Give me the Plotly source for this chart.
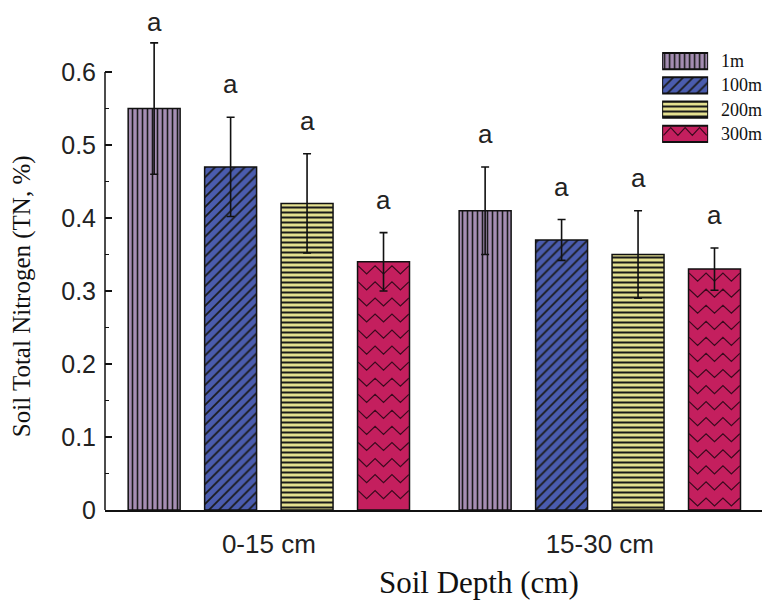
import plotly.graph_objects as go

# ---------------- data ----------------
depths = ["0-15 cm", "15-30 cm"]
distances = ["1m", "100m", "200m", "300m"]

tn_1m = [0.55, 0.41]
tn_100m = [0.47, 0.37]
tn_200m = [0.42, 0.35]
tn_300m = [0.34, 0.33]

se_1m = [0.09, 0.06]
se_100m = [0.068, 0.028]
se_200m = [0.068, 0.06]
se_300m = [0.04, 0.029]

sig_1m = ["a", "a"]
sig_100m = ["a", "a"]
sig_200m = ["a", "a"]
sig_300m = ["a", "a"]

y_ticks = [0, 0.1, 0.2, 0.3, 0.4, 0.5, 0.6]
y_tick_labels = ["0", "0.1", "0.2", "0.3", "0.4", "0.5", "0.6"]
y_minor = [0.05, 0.15, 0.25, 0.35, 0.45, 0.55]

values = [tn_1m, tn_100m, tn_200m, tn_300m]
errors = [se_1m, se_100m, se_200m, se_300m]
letters = [sig_1m, sig_100m, sig_200m, sig_300m]

# ---------------- style ----------------
SANS = "Liberation Sans, Arial, sans-serif"
SERIF = "Liberation Serif, Times New Roman, serif"
fills = ["#a68eb4", "#4a5cae", "#e4e090", "#c41f5e"]
pat_shapes = ["|", "/", "-", ""]
pat_sizes = [5, 7, 5, 8]
pat_solid = [0.32, 0.25, 0.4, 0.3]
LINE = "#111111"

PITCH = 0.231
BW = 0.157
x_idx = list(range(len(depths)))
Y_MAX = 0.685
LABEL_GAP = 0.045
LABEL_CEIL = 0.669


def zigzag(x0, x1, y_top, y_bot, row_gap, amp, half_period):
    xs, ys = [], []
    n = max(2, int(round((x1 - x0) / half_period)))
    step = (x1 - x0) / n
    y = y_top
    while y > y_bot:
        for k in range(n + 1):
            xs.append(x0 + k * step)
            ys.append(y + (amp / 2 if k % 2 == 0 else -amp / 2))
        xs.append(None)
        ys.append(None)
        y -= row_gap
    return xs, ys


fig = go.Figure()

# bars
for i, name in enumerate(distances):
    off = (i - 1.5) * PITCH
    fig.add_bar(
        x=x_idx, y=values[i], width=BW, offset=off - BW / 2,
        marker=dict(color=fills[i], line=dict(color=LINE, width=1.5),
                    pattern=dict(shape=pat_shapes[i], fgcolor="#1a1a1a",
                                 bgcolor=fills[i], size=pat_sizes[i],
                                 solidity=pat_solid[i], fillmode="replace")),
        name=name, showlegend=False, hoverinfo="skip",
    )

# zigzag pattern for the 300m bars
zi = 3
zx, zy = [], []
for j, v in enumerate(values[zi]):
    c = x_idx[j] + (zi - 1.5) * PITCH
    xs, ys = zigzag(c - BW / 2 + 0.002, c + BW / 2 - 0.002, v - 0.011, 0.008, 0.022, 0.011, 0.026)
    zx += xs
    zy += ys
fig.add_scatter(x=zx, y=zy, mode="lines", line=dict(color="#3a0a1e", width=1.2),
                showlegend=False, hoverinfo="skip")

# error bars (on top)
for i, name in enumerate(distances):
    off = (i - 1.5) * PITCH
    fig.add_scatter(
        x=[k + off for k in x_idx], y=values[i], mode="markers",
        marker=dict(size=1, color="rgba(0,0,0,0)"),
        error_y=dict(type="data", array=errors[i], color=LINE, thickness=1.6, width=4),
        showlegend=False, hoverinfo="skip",
    )

# significance letters
for i, name in enumerate(distances):
    off = (i - 1.5) * PITCH
    for j, k in enumerate(x_idx):
        fig.add_annotation(
            x=k + off, y=min(values[i][j] + errors[i][j] + LABEL_GAP, LABEL_CEIL),
            text=letters[i][j], showarrow=False, yanchor="middle",
            font=dict(family=SANS, size=26, color="#222222"),
        )

# custom legend (patterned swatches on a small inset axis)
for i, name in enumerate(distances):
    fig.add_bar(
        x=[1], y=[i], base=0, orientation="h", width=0.66,
        xaxis="x2", yaxis="y2",
        marker=dict(color=fills[i], line=dict(color=LINE, width=2),
                    pattern=dict(shape=pat_shapes[i], fgcolor="#1a1a1a",
                                 bgcolor=fills[i], size=pat_sizes[i],
                                 solidity=pat_solid[i], fillmode="replace")),
        showlegend=False, hoverinfo="skip",
    )
    fig.add_annotation(
        xref="paper", yref="y2", x=0.935, y=i, text=name, showarrow=False,
        xanchor="left", yanchor="middle",
        font=dict(family=SERIF, size=18, color="#111111"),
    )
lx, ly = zigzag(0.03, 0.97, zi - 0.1, zi - 0.2, 1.0, 0.32, 0.16)
fig.add_scatter(x=lx, y=ly, mode="lines", xaxis="x2", yaxis="y2",
                line=dict(color="#3a0a1e", width=1.2), showlegend=False, hoverinfo="skip")

# y-axis spine only up to the last tick
fig.add_shape(type="line", xref="paper", yref="y", x0=0, x1=0, y0=0, y1=y_ticks[-1],
              line=dict(color=LINE, width=1.5))

# axis titles
fig.add_annotation(xref="paper", yref="paper", x=0.569, y=-0.144, text="Soil Depth (cm)",
                   showarrow=False, xanchor="center", yanchor="middle",
                   font=dict(family=SERIF, size=31, color="#111111"))
fig.add_annotation(xref="paper", yref="paper", x=-0.126, y=0.428,
                   text="Soil Total Nitrogen (TN, %)", textangle=-90,
                   showarrow=False, xanchor="center", yanchor="middle",
                   font=dict(family=SERIF, size=25, color="#111111"))

# the page body adds an 8px offset, so the figure is 8px smaller and margins shifted
fig.update_layout(
    width=765, height=594,
    margin=dict(l=97, r=11, t=2, b=92),
    paper_bgcolor="white", plot_bgcolor="white",
    barmode="overlay",
    xaxis=dict(range=[-0.495, 1.49], tickvals=x_idx, ticktext=depths,
               showline=True, linecolor=LINE, linewidth=1.5, ticks="",
               showgrid=False, zeroline=False, ticklabelstandoff=10,
               tickfont=dict(family=SANS, size=26, color="#222222")),
    yaxis=dict(range=[0, Y_MAX], tickvals=y_ticks, ticktext=y_tick_labels,
               ticks="inside", ticklen=7, tickwidth=1.5, tickcolor=LINE,
               minor=dict(tickvals=y_minor, ticks="inside", ticklen=4,
                          tickwidth=1.2, tickcolor=LINE),
               showline=False, showgrid=False, zeroline=False, ticklabelstandoff=8,
               tickfont=dict(family=SANS, size=25, color="#222222")),
    xaxis2=dict(domain=[0.848, 0.918], range=[0, 1], anchor="y2", visible=False,
                fixedrange=True),
    yaxis2=dict(domain=[0.728, 0.922], range=[3.5, -0.5], anchor="x2", visible=False,
                fixedrange=True),
)

fig.write_html("out.html")
